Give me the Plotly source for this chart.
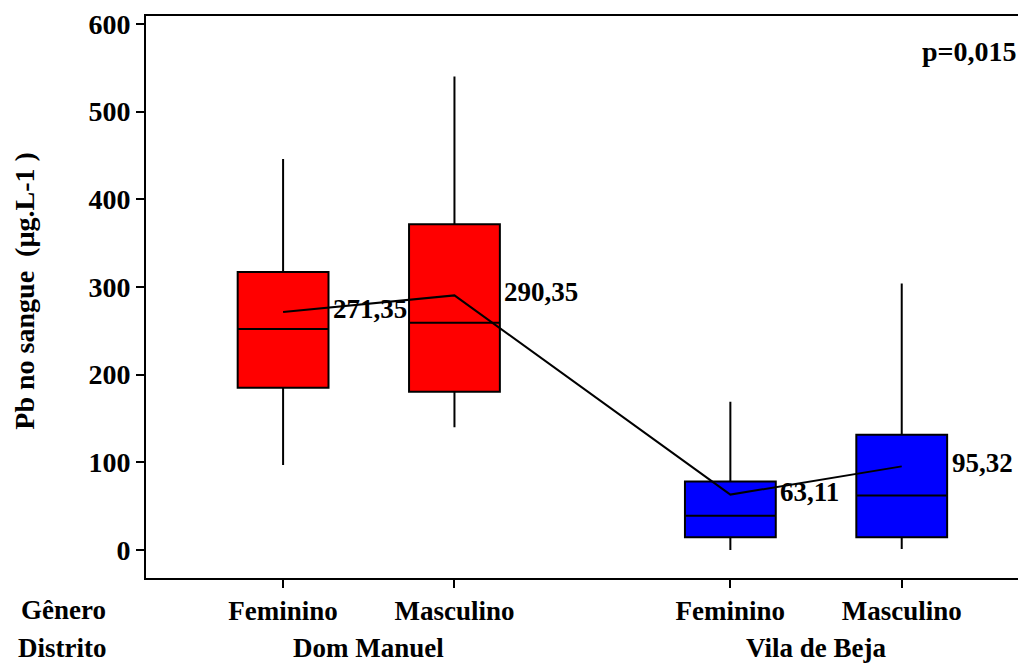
import plotly.graph_objects as go

# ---- data ----
districts = ["Dom Manuel", "Vila de Beja"]
genders = ["Feminino", "Masculino"]
q1 = [185, 180.5, 14.5, 14.5]
median = [252, 259, 39, 62]
q3 = [317, 371.5, 78, 131.5]
lower = [97, 140, 0, 1]
upper = [446, 540, 169, 304]
means = [271.35, 290.35, 63.11, 95.32]
mean_labels = ["271,35", "290,35", "63,11", "95,32"]
colors = ["#FF0000", "#FF0000", "#0000FF", "#0000FF"]
y_ticks = [0, 100, 200, 300, 400, 500, 600]

FONT = "Liberation Serif, Times New Roman, serif"
GROUP_GAP = 2.61

# x positions: two categories per district, with a wider gap between districts
positions = []
tick_text = []
for gi, d in enumerate(districts):
    for j, g in enumerate(genders):
        positions.append(gi * GROUP_GAP + j)
        tick_text.append(g)

fig = go.Figure()
for i in range(len(positions)):
    fig.add_trace(go.Box(
        x=[positions[i]], q1=[q1[i]], median=[median[i]], q3=[q3[i]],
        lowerfence=[lower[i]], upperfence=[upper[i]],
        width=0.53, whiskerwidth=0, boxpoints=False,
        fillcolor=colors[i], line=dict(color="black", width=2),
        showlegend=False, hoverinfo="skip",
    ))

fig.add_trace(go.Scatter(
    x=positions, y=means, mode="lines",
    line=dict(color="black", width=2), showlegend=False, hoverinfo="skip",
))

annotations = []
for i in range(len(positions)):
    annotations.append(dict(
        x=positions[i], y=means[i], xref="x", yref="y", text=f"<b>{mean_labels[i]}</b>",
        showarrow=False, xanchor="left", yanchor="middle", xshift=48, yshift=3,
        font=dict(family=FONT, size=27, color="black"),
    ))

# group labels
for gi, d in enumerate(districts):
    cx = gi * GROUP_GAP + (len(genders) - 1) / 2
    annotations.append(dict(
        x=cx, y=-0.125, xref="x", yref="paper", text=f"<b>{d}</b>",
        showarrow=False, xanchor="center", yanchor="middle",
        font=dict(family=FONT, size=27, color="black"),
    ))

annotations.append(dict(x=-0.094, y=-0.057, xref="paper", yref="paper", text="<b>Gênero</b>",
                        showarrow=False, xanchor="center", yanchor="middle",
                        font=dict(family=FONT, size=27, color="black")))
annotations.append(dict(x=-0.096, y=-0.125, xref="paper", yref="paper", text="<b>Distrito</b>",
                        showarrow=False, xanchor="center", yanchor="middle",
                        font=dict(family=FONT, size=27, color="black")))
annotations.append(dict(x=0.998, y=0.936, xref="paper", yref="paper", text="<b>p=0,015</b>",
                        showarrow=False, xanchor="right", yanchor="middle",
                        font=dict(family=FONT, size=28, color="black")))
annotations.append(dict(x=-0.139, y=0.512, xref="paper", yref="paper",
                        text="<b>Pb no sangue  (µg.L-1 )</b>", textangle=-90,
                        showarrow=False, xanchor="center", yanchor="middle",
                        font=dict(family=FONT, size=28, color="black")))

# The page body has an 8px margin, so the figure is sized to end at the window edge
fig.update_layout(
    width=1018, height=657,
    margin=dict(l=138, r=5, t=8, b=87, autoexpand=False),
    paper_bgcolor="white", plot_bgcolor="white",
    annotations=annotations,
    xaxis=dict(
        range=[-0.80, 4.306], tickvals=positions, ticktext=[f"<b>{t}</b>" for t in tick_text],
        showgrid=False, zeroline=False, showline=True, mirror=True,
        linecolor="black", linewidth=2, ticks="outside", ticklen=8, tickwidth=1.5,
        tickcolor="black", tickfont=dict(family=FONT, size=27, color="black"),
    ),
    yaxis=dict(
        range=[-32, 609], tickvals=y_ticks, ticktext=[f"<b>{v}</b>" for v in y_ticks],
        showgrid=False, zeroline=False,
        showline=True, mirror=True, linecolor="black", linewidth=2,
        ticks="outside", ticklen=8, tickwidth=2, tickcolor="black",
        tickfont=dict(family=FONT, size=28, color="black"),
    ),
)

fig.write_html("out.html")
